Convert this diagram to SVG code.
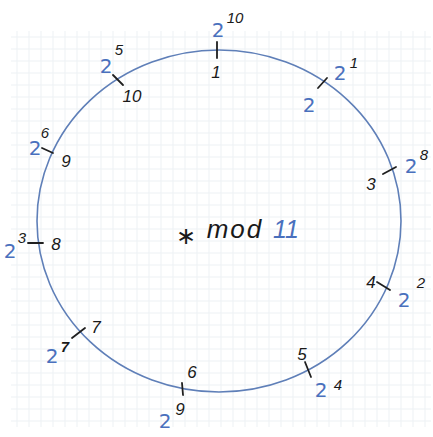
<svg xmlns="http://www.w3.org/2000/svg" width="433" height="437" viewBox="0 0 433 437">
<defs>
<pattern id="grid" x="-1" y="-5" width="12" height="12" patternUnits="userSpaceOnUse">
<path d="M6 0V12M0 6H12" stroke="#edf1f4" stroke-width="1" fill="none"/>
</pattern>
</defs>
<style>
.two{font-family:"DejaVu Sans",sans-serif;font-size:20px;fill:#4a70bd;text-anchor:middle}
.sup{font-family:"Liberation Sans",sans-serif;font-style:italic;font-size:15px;fill:#1a1a1a;text-anchor:middle}
.lab{font-family:"Liberation Sans",sans-serif;font-style:italic;font-size:17px;fill:#1a1a1a;text-anchor:middle}
.tick{stroke:#1f1f1f;stroke-width:1.8;stroke-linecap:round;fill:none}
.ring{fill:none;stroke:#5f7fb8;stroke-width:1.6}
</style>
<rect width="433" height="437" fill="#ffffff"/>
<rect x="11" y="31" width="420" height="396" fill="url(#grid)"/>
<g id="connectors">
<ellipse class="ring" cx="219" cy="221" rx="182" ry="171"/>
</g>
<g id="n0">
<line class="tick" x1="217" y1="42" x2="217" y2="58"/>
<text class="two" x="218" y="37">2</text>
<text class="sup" x="235" y="23">10</text>
<text class="lab" x="216" y="78">1</text>
</g>
<g id="n1">
<line class="tick" x1="318" y1="88" x2="327" y2="78"/>
<text class="two" x="340" y="80">2</text>
<text class="sup" x="354" y="68">1</text>
<text class="two" x="309" y="112">2</text>
</g>
<g id="n2">
<line class="tick" x1="383" y1="174" x2="396" y2="167"/>
<text class="lab" x="371" y="190">3</text>
<text class="two" x="411" y="173">2</text>
<text class="sup" x="424" y="160">8</text>
</g>
<g id="n3">
<line class="tick" x1="377" y1="282" x2="390" y2="290"/>
<text class="lab" x="371" y="288">4</text>
<text class="two" x="404" y="307">2</text>
<text class="sup" x="421" y="288">2</text>
</g>
<g id="n4">
<line class="tick" x1="305" y1="362" x2="311" y2="377"/>
<text class="lab" x="302" y="360">5</text>
<text class="two" x="321" y="397">2</text>
<text class="sup" x="338" y="390">4</text>
</g>
<g id="n5">
<line class="tick" x1="182" y1="383" x2="183" y2="395"/>
<text class="lab" x="192" y="378">6</text>
<text class="lab" x="180" y="415">9</text>
<text class="two" x="165" y="428">2</text>
</g>
<g id="n6">
<line class="tick" x1="72" y1="338" x2="85" y2="328"/>
<text class="lab" x="96" y="333">7</text>
<text class="two" x="52" y="363">2</text>
<text class="sup" x="65" y="352" font-weight="bold" font-style="normal">7</text>
</g>
<g id="n7">
<line class="tick" x1="28" y1="243" x2="43" y2="243"/>
<text class="sup" x="22" y="243">3</text>
<text class="two" x="10" y="258">2</text>
<text class="lab" x="56" y="250">8</text>
</g>
<g id="n8">
<line class="tick" x1="42" y1="148" x2="53" y2="153"/>
<text class="sup" x="45" y="138">6</text>
<text class="two" x="35" y="155">2</text>
<text class="lab" x="66" y="167">9</text>
</g>
<g id="n9">
<line class="tick" x1="113" y1="75" x2="123" y2="85"/>
<text class="two" x="106" y="73">2</text>
<text class="sup" x="119" y="55">5</text>
<text class="lab" x="132" y="102">10</text>
</g>
<g id="center">
<text x="186" y="244" font-family="DejaVu Sans,sans-serif" font-size="24" fill="#1a1a1a" text-anchor="middle">∗</text>
<text x="235" y="238" font-family="Liberation Sans,sans-serif" font-style="italic" font-size="26" letter-spacing="2" fill="#1a1a1a" text-anchor="middle">mod</text>
<text x="286" y="238" font-family="Liberation Sans,sans-serif" font-style="italic" font-size="25" fill="#4a70bd" text-anchor="middle">11</text>
</g>
</svg>
